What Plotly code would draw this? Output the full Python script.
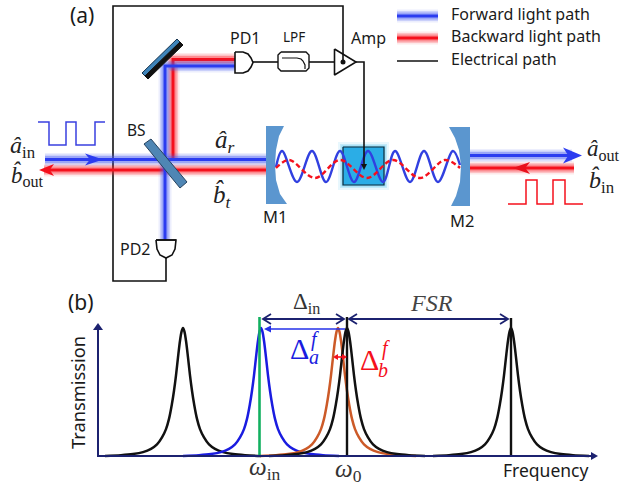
import plotly.graph_objects as go

# ---------- colours ----------
BLUE = "#2b3cf0"; RED = "#f5101c"; NAVY = "#1c2270"; MIRROR = "#5b96cf"; BLACK = "#111111"
HALO_B = "rgba(70,90,240,{})"; HALO_R = "rgba(250,40,50,{})"

# ---------- part (a) light paths ----------
forward_beams = [
    ([45, 266], [159.5, 159.5]),
    ([165, 165, 235], [240, 66, 66]),
    ([470, 572], [155.5, 155.5]),
]
backward_beams = [
    ([44, 266], [170, 170]),
    ([173, 173, 235], [159, 59.5, 59.5]),
    ([470, 574], [168, 168]),
]
wave_blue_x = [276, 282, 297, 312, 326, 340, 354, 368, 383, 395, 410, 424, 438, 453, 460]
wave_blue_y = [167, 151, 182, 151, 182, 151, 182, 151, 182, 151, 182, 151, 182, 151, 165]
wave_red_x = [276, 289, 315, 340, 367, 393, 420, 445, 460]
wave_red_y = [168, 160, 178, 160, 178, 160, 178, 160, 168]
pulse_in_x = [38, 49, 49, 66, 66, 76, 76, 95, 95, 105]
pulse_in_y = [122, 122, 145, 145, 122, 122, 145, 145, 122, 122]
pulse_back_x = [508, 526, 526, 537, 537, 553, 553, 565, 565, 583]
pulse_back_y = [204, 204, 180, 180, 204, 204, 180, 180, 204, 204]

# ---------- part (a) optics ----------
m1_x = [266, 284, 279, 276, 275, 276, 280, 287, 266, 266]
m1_y = [126, 126, 136, 150, 165, 180, 194, 204, 204, 126]
m2_x = [470, 449, 455, 459, 461, 460, 456, 451, 470, 470]
m2_y = [127, 127, 138, 150, 166, 182, 196, 206, 206, 127]
bs_x = [144, 151, 187, 180, 144]
bs_y = [144, 139, 182, 188, 144]
upper_mirror_x = [142, 177, 180, 145, 142]
upper_mirror_y = [73, 39, 42, 76, 73]
upper_back_x = [145, 180, 183, 148, 145]
upper_back_y = [76, 42, 45, 79, 76]
crystal_x = [343, 384, 384, 343, 343]
crystal_y = [147, 147, 185, 185, 147]

# ---------- part (a) electrics ----------
loop_x = [166, 166, 113, 113, 343, 343]
loop_y = [258, 281, 281, 6, 6, 62]
pd1_x = [235, 243, 248, 251, 253, 251, 248, 243, 235, 235]
pd1_y = [52, 52, 54, 58, 62.5, 67, 71, 73, 73, 52]
pd2_x = [156, 176, 175, 172, 166, 160, 157, 156]
pd2_y = [240, 240, 249, 255, 258, 255, 249, 240]
wire_1_x = [253, 278]; wire_1_y = [62, 62]
wire_2_x = [309, 334]; wire_2_y = [62, 62]
wire_amp_x = [356, 364, 364]; wire_amp_y = [62, 62, 168]
lpf_x = [281, 306, 309, 309, 306, 281, 278, 278, 281]
lpf_y = [52, 52, 55, 68, 71, 71, 68, 55, 52]
lpf_curve_x = [282, 297, 301, 303, 305, 305]
lpf_curve_y = [58, 58, 59, 61, 65, 69]
amp_x = [334.5, 356, 334.5, 334.5]
amp_y = [49, 62, 75, 49]

# ---------- legend ----------
legend_labels = ["Forward light path", "Backward light path", "Electrical path"]
legend_line_x = [397, 438]
legend_y = [16, 38, 61]

base_y = 456; top_y = 328
peak_dx = [0, 1.5, 3, 5, 7, 9, 11, 14, 17, 21, 26, 32, 40, 50, 62, 78]
peak_h = [1, .97, .90, .77, .63, .51, .41, .29, .21, .145, .09, .055, .03, .015, .006, 0]
black_centres = [183, 347, 511]
blue_centre = 261
orange_centre = 338
green_x = 259.5

fig = go.Figure()


def line(x, y, color=BLACK, width=1.6, dash=None, shape="linear", fill=None, fillcolor=None):
    fig.add_trace(go.Scatter(x=x, y=y, mode="lines", hoverinfo="skip", fill=fill, fillcolor=fillcolor,
                             line=dict(color=color, width=width, dash=dash, shape=shape)))


def poly(x, y, fillcolor, color=None, width=0):
    line(x, y, color=color or fillcolor, width=width, fill="toself", fillcolor=fillcolor)


def beam(x, y, core, halo):
    for w, a in ((13, .10), (10, .20), (7, .35)):
        line(x, y, color=halo.format(a), width=w)
    line(x, y, color=core, width=3)


def head(tipx, tipy, dx, dy, color):
    poly([tipx, tipx + dx, tipx + dx * .72, tipx + dx, tipx], [tipy, tipy - dy, tipy, tipy + dy, tipy], color)


def chevron(tipx, tipy, dx, dy, color, width=1.8):
    line([tipx + dx, tipx, tipx + dx], [tipy - dy, tipy, tipy + dy], color=color, width=width)


def profile(c, color, width=2.5):
    xs = [c - d for d in reversed(peak_dx[1:])] + [c + d for d in peak_dx]
    hs = list(reversed(peak_h[1:])) + peak_h
    ys = [base_y - h * (base_y - top_y) for h in hs]
    line(xs, ys, color=color, width=width, shape="spline")


# electrical loop behind the beams
line(loop_x, loop_y)
# beams
for x, y in backward_beams:
    beam(x, y, RED, HALO_R)
for x, y in forward_beams:
    beam(x, y, BLUE, HALO_B)
head(103, 159.5, -18, 6, BLUE)
head(39, 170, 15, 6, RED)
head(582, 155.5, -19, 8, BLUE)
head(513, 168, 17, 6, "#e8101c")
# pulses
line(pulse_in_x, pulse_in_y, color="#3a40e0", width=1.5)
line(pulse_back_x, pulse_back_y, color=RED, width=1.5)
# optics
poly(m1_x, m1_y, MIRROR)
poly(m2_x, m2_y, MIRROR)
poly(bs_x, bs_y, "#4f86b4", "#26425f", 1)
poly(upper_mirror_x, upper_mirror_y, "#3f85bb", "#14324d", 1)
poly(upper_back_x, upper_back_y, BLACK, BLACK, 1)
# crystal with glow
for grow, a in ((5, .10), (3, .18), (1.5, .28)):
    gx = [343 - grow, 384 + grow, 384 + grow, 343 - grow, 343 - grow]
    gy = [147 - grow, 147 - grow, 185 + grow, 185 + grow, 147 - grow]
    poly(gx, gy, f"rgba(30,175,235,{a})")
poly(crystal_x, crystal_y, "#2bade6", "#0d2a3a", 1.2)
# waves
line(wave_blue_x, wave_blue_y, color="#3140e0", width=2.4, shape="spline")
line(wave_red_x, wave_red_y, color=RED, width=2.4, dash="5px,3px", shape="spline")
# detectors, filter, amplifier
poly(pd1_x, pd1_y, "white", BLACK, 1.6)
poly(pd2_x, pd2_y, "white", BLACK, 1.6)
line([156, 176], [240, 240], width=1.6)
line(wire_1_x, wire_1_y)
line(wire_2_x, wire_2_y)
line(lpf_x, lpf_y, width=1.4)
line(lpf_curve_x, lpf_curve_y, width=1.2)
line(amp_x, amp_y)
line(wire_amp_x, wire_amp_y)
poly([361, 367, 364, 361], [164, 164, 170, 164], BLACK)
fig.add_trace(go.Scatter(x=[343], y=[62], mode="markers", hoverinfo="skip",
                         marker=dict(color=BLACK, size=5)))
# legend
beam(legend_line_x, [legend_y[0]] * 2, BLUE, HALO_B)
beam(legend_line_x, [legend_y[1]] * 2, RED, HALO_R)
line(legend_line_x, [legend_y[2]] * 2, width=1.4)

# part (b)
profile(black_centres[0], BLACK)
profile(blue_centre, "#1a1ce0")
profile(orange_centre, "#cc5a28")
profile(black_centres[1], BLACK)
profile(black_centres[2], BLACK)
line([green_x, green_x], [317, base_y], color="#12b060", width=2.6)
line([black_centres[1]] * 2, [317, base_y], width=2.4)
line([black_centres[2]] * 2, [318, base_y], width=2.4)
line([98, 98, 594], [326, base_y, base_y], color=NAVY, width=2)
poly([93, 103, 98, 93], [330, 330, 323, 330], NAVY)
poly([591, 591, 598, 591], [452, 460, 456, 452], NAVY)
# detuning arrows
line([264, 344], [319, 319], color=NAVY, width=1.8)
chevron(263, 319, 8, 5, NAVY)
chevron(344, 319, -8, 5, NAVY)
line([350, 507], [319, 319], color=NAVY, width=1.8)
chevron(349, 319, 8, 5, NAVY)
chevron(508, 319, -8, 5, NAVY)
line([268, 345], [329, 329], color="#2530e8", width=1.6)
poly([264, 271, 271, 264], [329, 325.5, 332.5, 329], "#2530e8")
line([336, 345], [357, 357], color=RED, width=1.6)
poly([333, 338, 338, 333], [357, 354, 360, 357], RED)
poly([347, 342, 342, 347], [357, 354, 360, 357], RED)

SANS = "Noto Sans, Open Sans, sans-serif"
SERIF = "Liberation Serif, DejaVu Serif, serif"


def text(x, y, s, size=13, color="#1a1a1a", font=SANS, anchor="center", angle=0):
    fig.add_annotation(x=x, y=y, text=s, showarrow=False, xanchor=anchor, yanchor="middle",
                       textangle=angle, font=dict(family=font, size=size, color=color))


text(82, 15, "(a)", 21)
text(81, 302, "(b)", 21)
text(245, 38, "PD1", 16)
text(294, 37, "LPF", 13.5)
text(368, 38, "Amp", 16)
text(136, 130, "BS", 15.5)
text(275, 216, "M1", 16.5)
text(462, 220, "M2", 16.5)
text(135, 249, "PD2", 16)
for lab, yy in zip(legend_labels, legend_y):
    text(449, yy - 2, lab, 16, anchor="left")
text(8, 147, "<i>â</i><sub>in</sub>", 24, "#222", SERIF, "left")
text(9, 175, "<i>b̂</i><sub>out</sub>", 23, "#222", SERIF, "left")
text(213, 141, "<i>â</i><sub><i>r</i></sub>", 25, "#222", SERIF, "left")
text(211, 196, "<i>b̂</i><sub><i>t</i></sub>", 25, "#222", SERIF, "left")
text(585, 150, "<i>â</i><sub>out</sub>", 23, "#222", SERIF, "left")
text(587, 181, "<i>b̂</i><sub>in</sub>", 24, "#222", SERIF, "left")
text(77, 393, "Transmission", 18.3, angle=-90)
text(545, 470, "Frequency", 17.5)
text(306, 303, "Δ<sub>in</sub>", 23, "#333", SERIF)
text(431, 303, "<i>FSR</i>", 24, "#444", SERIF)
text(299, 348, "Δ", 30, "#1a1ce0", SERIF)
text(315, 339, "<i>f</i>", 20, "#1a1ce0", SERIF)
text(314, 357, "<i>a</i>", 20, "#1a1ce0", SERIF)
text(369, 359, "Δ", 30, RED, SERIF)
text(386, 348, "<i>f</i>", 20, RED, SERIF)
text(383, 370, "<i>b</i>", 20, RED, SERIF)
text(265, 468, "<i>ω</i><sub>in</sub>", 25, "#333", SERIF)
text(348, 470, "<i>ω</i><sub>0</sub>", 25, "#333", SERIF)

axis = dict(visible=False, fixedrange=True)
fig.update_layout(
    width=620, height=487, margin=dict(l=0, r=0, t=0, b=0), showlegend=False,
    plot_bgcolor="white", paper_bgcolor="white",
    xaxis=dict(range=[0, 620], **axis), yaxis=dict(range=[487, 0], **axis),
)
fig.write_html("out.html", config=dict(displayModeBar=False),
               post_script="document.body.style.margin='0';document.body.style.overflow='hidden';")
